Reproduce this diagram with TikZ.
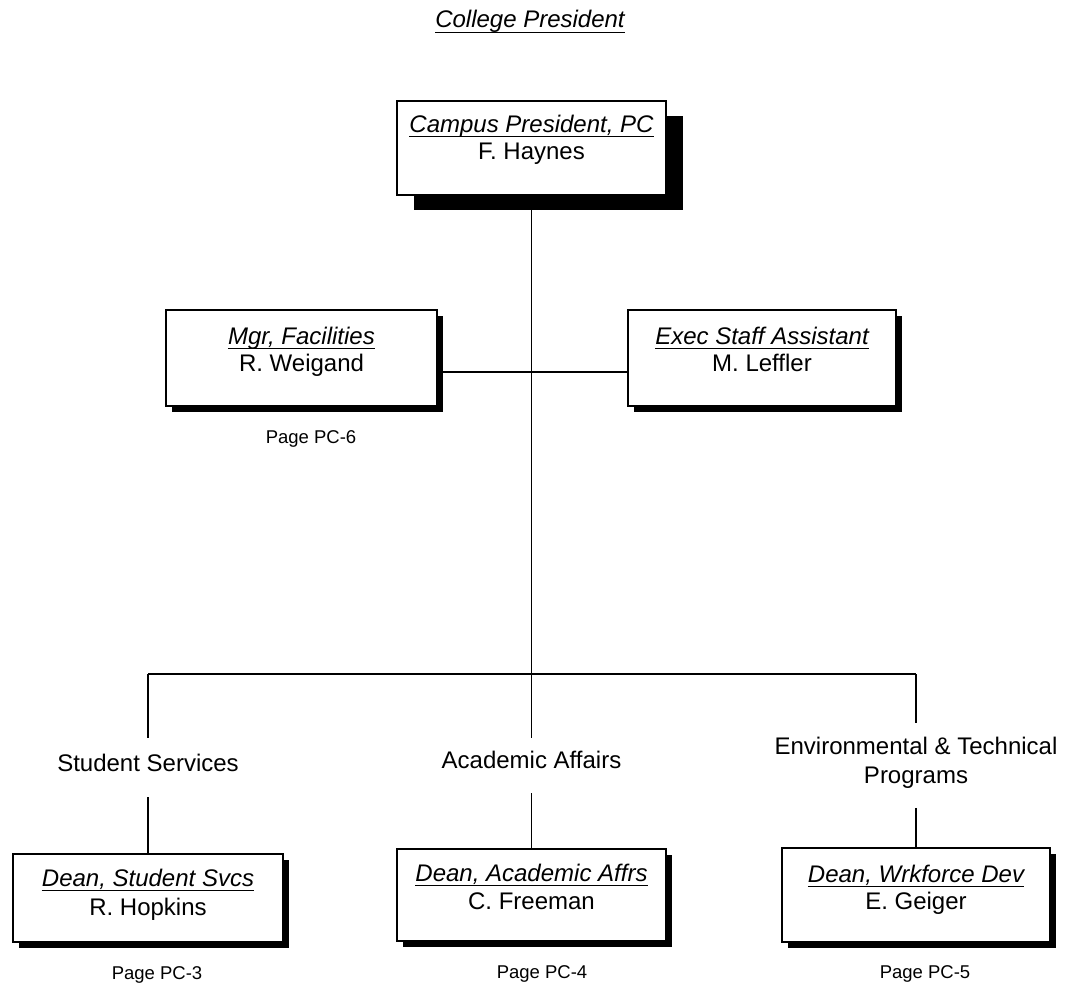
\documentclass[tikz,border=0pt]{standalone}
\usepackage{fontspec}
\setmainfont{Liberation Sans}
\usetikzlibrary{shadows}
\tikzset{
  orgbox/.style={draw=black, line width=1.6pt, fill=white, inner sep=0pt},
  bigshadow/.style={drop shadow={shadow xshift=17pt, shadow yshift=-15pt, fill=black, opacity=1}},
  smallshadow/.style={drop shadow={shadow xshift=6pt, shadow yshift=-6pt, fill=black, opacity=1}},
  ttl/.style={inner sep=0pt, anchor=base, font=\fontsize{24}{28}\selectfont\itshape},
  nm/.style={inner sep=0pt, anchor=base, font=\fontsize{24}{28}\selectfont},
  pg/.style={inner sep=0pt, anchor=base, font=\fontsize{18.5}{22}\selectfont},
  unit/.style={inner sep=0pt, anchor=base, font=\fontsize{24}{29}\selectfont, text height=17pt, text depth=0pt},
  unit2/.style={inner sep=0pt, font=\fontsize{24}{29}\selectfont, align=center},
  conn/.style={line width=1.8pt},
  uline/.style={line width=1.5pt},
}
\newcommand{\ulunder}[1]{\draw[uline] ([yshift=-4.5pt]#1.base west) -- ([yshift=-4.5pt]#1.base east);}
\begin{document}
\begin{tikzpicture}[x=1pt,y=-1pt]
\useasboundingbox (0,0) rectangle (1065,990);

% heading
\node[ttl] (head) at (530,28) {College President};
\ulunder{head}

% boxes
\node[orgbox, bigshadow, minimum width=269pt, minimum height=94pt] (pres) at (531.5,148) {};
\node[orgbox, smallshadow, minimum width=271pt, minimum height=96pt] (mgr) at (301.5,358) {};
\node[orgbox, smallshadow, minimum width=268pt, minimum height=96pt] (exec) at (762,358) {};
\node[orgbox, smallshadow, minimum width=270pt, minimum height=88pt] (dss) at (148,898) {};
\node[orgbox, smallshadow, minimum width=269pt, minimum height=92pt] (daa) at (531.5,895) {};
\node[orgbox, smallshadow, minimum width=268pt, minimum height=94pt] (dwd) at (916,895) {};

% box texts
\node[ttl] (presT) at ([yshift=-32pt]pres.north) {Campus President, PC};
\node[nm]  (presN) at ([yshift=-59pt]pres.north) {F. Haynes};
\node[ttl] (mgrT) at ([yshift=-35pt]mgr.north) {Mgr, Facilities};
\node[nm]  (mgrN) at ([yshift=-62pt]mgr.north) {R. Weigand};
\node[ttl] (execT) at ([yshift=-35pt]exec.north) {Exec Staff Assistant};
\node[nm]  (execN) at ([yshift=-62pt]exec.north) {M. Leffler};
\node[ttl] (dssT) at ([yshift=-33pt]dss.north) {Dean, Student Svcs};
\node[nm]  (dssN) at ([yshift=-62pt]dss.north) {R. Hopkins};
\node[ttl] (daaT) at ([yshift=-33pt]daa.north) {Dean, Academic Affrs};
\node[nm]  (daaN) at ([yshift=-61pt]daa.north) {C. Freeman};
\node[ttl] (dwdT) at ([yshift=-35pt]dwd.north) {Dean, Wrkforce Dev};
\node[nm]  (dwdN) at ([yshift=-62pt]dwd.north) {E. Geiger};
\ulunder{presT}
\ulunder{mgrT}
\ulunder{execT}
\ulunder{dssT}
\ulunder{daaT}
\ulunder{dwdT}

% page labels
\node[pg] (p6) at (311,443) {Page PC-6};
\node[pg] (p3) at (157,979) {Page PC-3};
\node[pg] (p4) at (542,978) {Page PC-4};
\node[pg] (p5) at (925,978) {Page PC-5};

% unit labels
\node[unit] (ss) at (148,771) {Student Services};
\node[unit] (aa) at (531.5,768) {Academic Affairs};
\node[unit2] (env) at (916,763) {Environmental \& Technical\\Programs};

% connectors
\coordinate (mid) at (531.5,372);
\coordinate (busL) at (148,674);
\coordinate (busR) at (916,674);
\draw[conn] (pres.south) -- (pres.south |- busL);
\draw[conn] (mgr.east |- mid) -- (exec.west |- mid);
\draw[conn] (busL) -- (busR);
\draw[conn] (busL) -- ([yshift=16pt]ss.north);
\draw[conn] (pres.south |- busL) -- ([yshift=13pt]aa.north);
\draw[conn] (busR) -- ([yshift=14pt]env.north);
\draw[conn] ([yshift=-26pt]ss.south) -- (dss.north);
\draw[conn] ([yshift=-25pt]aa.south) -- (daa.north);
\draw[conn] ([yshift=-19pt]env.south) -- (dwd.north);
\end{tikzpicture}
\end{document}
